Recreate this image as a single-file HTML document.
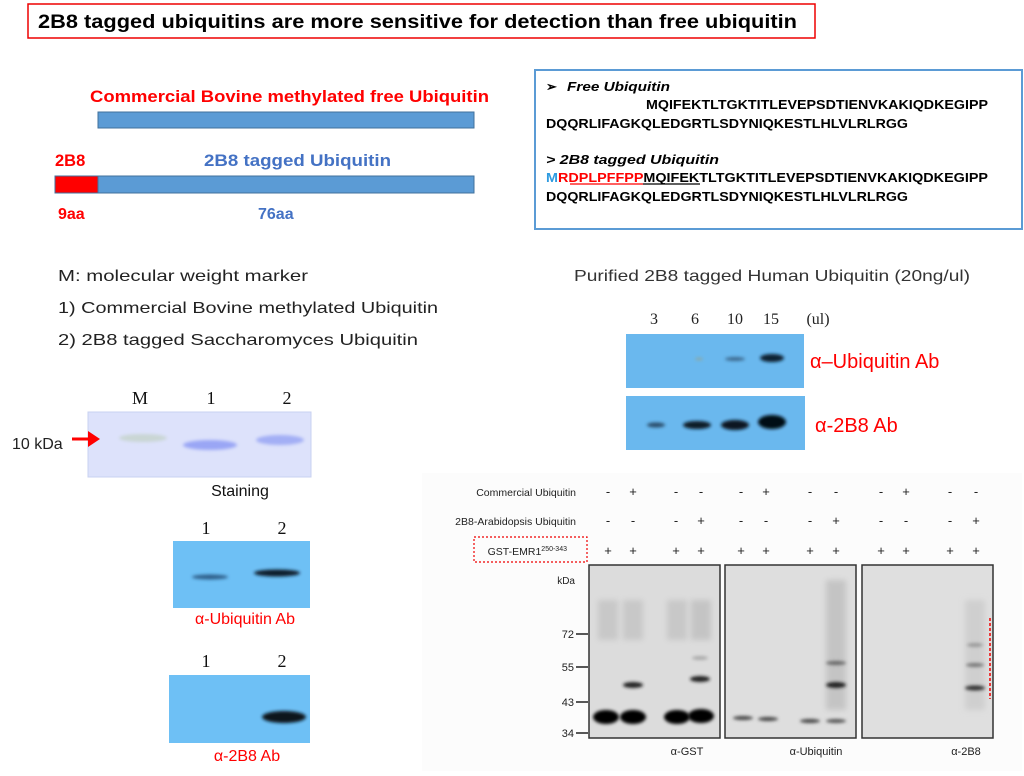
<!DOCTYPE html>
<html><head><meta charset="utf-8"><style>
html,body{margin:0;padding:0;background:#fff;width:1024px;height:776px;overflow:hidden}
svg{display:block}
.s{font-family:"Liberation Sans",sans-serif}
.r{font-family:"Liberation Serif",serif}
</style></head><body>
<svg width="1024" height="776" viewBox="0 0 1024 776" xmlns="http://www.w3.org/2000/svg" class="s">
<defs>
<filter id="b1" x="-50%" y="-100%" width="200%" height="300%"><feGaussianBlur stdDeviation="1.5"/></filter>
<filter id="b2" x="-50%" y="-100%" width="200%" height="300%"><feGaussianBlur stdDeviation="3"/></filter>
</defs>
<!-- Title -->
<rect x="28" y="4" width="787" height="34" fill="#fff" stroke="#e00" stroke-width="1.5"/>
<text x="38" y="28" font-size="19" font-weight="bold" fill="#000" textLength="759" lengthAdjust="spacingAndGlyphs">2B8 tagged ubiquitins are more sensitive for detection than free ubiquitin</text>

<!-- Bars -->
<text x="90" y="102" font-size="16.5" font-weight="bold" fill="#f00" textLength="399" lengthAdjust="spacingAndGlyphs">Commercial Bovine methylated free Ubiquitin</text>
<rect x="98" y="112" width="376" height="16" fill="#5b9bd5" stroke="#41719c" stroke-width="1"/>
<text x="55" y="166" font-size="16.5" font-weight="bold" fill="#f00">2B8</text>
<text x="204" y="166" font-size="16.5" font-weight="bold" fill="#4472c4" textLength="187" lengthAdjust="spacingAndGlyphs">2B8 tagged Ubiquitin</text>
<rect x="55" y="176" width="43" height="17" fill="#f00" stroke="#41719c"/>
<rect x="98" y="176" width="376" height="17" fill="#5b9bd5" stroke="#41719c"/>
<text x="58" y="219" font-size="16" font-weight="bold" fill="#f00">9aa</text>
<text x="258" y="219" font-size="16" font-weight="bold" fill="#4472c4">76aa</text>

<!-- Sequence box -->
<rect x="535" y="70" width="487" height="159" fill="#fff" stroke="#5b9bd5" stroke-width="2"/>
<g font-size="13" font-weight="bold" fill="#000">
<text x="546" y="91">➢</text>
<text x="567" y="91" font-style="italic" textLength="103" lengthAdjust="spacingAndGlyphs">Free Ubiquitin</text>
<text x="646" y="109" textLength="342" lengthAdjust="spacingAndGlyphs">MQIFEKTLTGKTITLEVEPSDTIENVKAKIQDKEGIPP</text>
<text x="546" y="128" textLength="362" lengthAdjust="spacingAndGlyphs">DQQRLIFAGKQLEDGRTLSDYNIQKESTLHLVLRLRGG</text>
<text x="546" y="164" font-style="italic" textLength="173" lengthAdjust="spacingAndGlyphs">&gt; 2B8 tagged Ubiquitin</text>
<text x="546" y="182" textLength="442" lengthAdjust="spacingAndGlyphs"><tspan fill="#2e9be0">M</tspan><tspan fill="#f00">RDPLPFFPP</tspan>MQIFEKTLTGKTITLEVEPSDTIENVKAKIQDKEGIPP</text>
<text x="546" y="201" textLength="362" lengthAdjust="spacingAndGlyphs">DQQRLIFAGKQLEDGRTLSDYNIQKESTLHLVLRLRGG</text>
</g>
<line x1="570" y1="184" x2="643" y2="184" stroke="#f00" stroke-width="1.2"/>
<line x1="643" y1="184" x2="700" y2="184" stroke="#000" stroke-width="1.2"/>

<!-- Left legend -->
<g font-size="16" fill="#222">
<text x="58" y="281" textLength="250" lengthAdjust="spacingAndGlyphs">M: molecular weight marker</text>
<text x="58" y="313" textLength="380" lengthAdjust="spacingAndGlyphs">1) Commercial Bovine methylated Ubiquitin</text>
<text x="58" y="345" textLength="360" lengthAdjust="spacingAndGlyphs">2) 2B8 tagged  Saccharomyces  Ubiquitin</text>
</g>

<!-- Staining gel -->
<g font-size="18" fill="#111" class="r">
<text x="140" y="404" text-anchor="middle">M</text>
<text x="211" y="404" text-anchor="middle">1</text>
<text x="287" y="404" text-anchor="middle">2</text>
</g>
<rect x="88" y="412" width="223" height="65" fill="#dde2fb" stroke="#c8d2f0"/>
<ellipse cx="143" cy="438" rx="24" ry="4" fill="#c9d6d4" filter="url(#b1)"/>
<ellipse cx="210" cy="445" rx="27" ry="5" fill="#9aa6f5" filter="url(#b1)"/>
<ellipse cx="280" cy="440" rx="24" ry="5" fill="#a3aff5" filter="url(#b1)"/>
<text x="12" y="449" font-size="16" fill="#222">10 kDa</text>
<line x1="72" y1="439" x2="92" y2="439" stroke="#f00" stroke-width="3"/>
<polygon points="100,439 88,431 88,447" fill="#f00"/>
<text x="240" y="496" font-size="16" fill="#111" text-anchor="middle">Staining</text>

<!-- Ubiquitin blot small -->
<g font-size="18" fill="#111" class="r">
<text x="206" y="534" text-anchor="middle">1</text>
<text x="282" y="534" text-anchor="middle">2</text>
</g>
<rect x="173" y="541" width="137" height="67" fill="#6ec0f5"/>
<ellipse cx="210" cy="577" rx="18" ry="2.5" fill="#2d5f8a" filter="url(#b1)"/>
<ellipse cx="277" cy="573" rx="23" ry="3.5" fill="#0b1c2c" filter="url(#b1)"/>
<text x="245" y="624" font-size="16" fill="#f00" text-anchor="middle">α-Ubiquitin Ab</text>

<!-- 2B8 blot small -->
<g font-size="18" fill="#111" class="r">
<text x="206" y="667" text-anchor="middle">1</text>
<text x="282" y="667" text-anchor="middle">2</text>
</g>
<rect x="169" y="675" width="141" height="68" fill="#6ec0f5"/>
<ellipse cx="284" cy="717" rx="22" ry="6" fill="#08131c" filter="url(#b1)"/>
<text x="247" y="761" font-size="16" fill="#f00" text-anchor="middle">α-2B8 Ab</text>

<!-- Purified -->
<text x="574" y="281" font-size="16" fill="#333" textLength="396" lengthAdjust="spacingAndGlyphs">Purified 2B8 tagged Human Ubiquitin (20ng/ul)</text>
<g font-size="16" fill="#222" class="r">
<text x="654" y="324" text-anchor="middle">3</text>
<text x="695" y="324" text-anchor="middle">6</text>
<text x="735" y="324" text-anchor="middle">10</text>
<text x="771" y="324" text-anchor="middle">15</text>
<text x="818" y="324" text-anchor="middle">(ul)</text>
</g>
<rect x="626" y="334" width="178" height="54" fill="#6ab8ee"/>
<ellipse cx="699" cy="359" rx="4" ry="1.5" fill="#8aa" filter="url(#b1)"/>
<ellipse cx="735" cy="359" rx="10" ry="2" fill="#3d6a90" filter="url(#b1)"/>
<ellipse cx="772" cy="358" rx="12" ry="4" fill="#0e2030" filter="url(#b1)"/>
<rect x="626" y="396" width="179" height="54" fill="#6ab8ee"/>
<ellipse cx="656" cy="425" rx="9" ry="2.5" fill="#2a4d6a" filter="url(#b1)"/>
<ellipse cx="697" cy="425" rx="14" ry="4" fill="#0b1a28" filter="url(#b1)"/>
<ellipse cx="735" cy="425" rx="14" ry="5" fill="#081520" filter="url(#b1)"/>
<ellipse cx="772" cy="422" rx="14" ry="7" fill="#050d14" filter="url(#b1)"/>
<text x="810" y="368" font-size="20" fill="#f00">α–Ubiquitin Ab</text>
<text x="815" y="432" font-size="20" fill="#f00">α-2B8 Ab</text>

<!-- Western right -->
<rect x="422" y="473" width="600" height="298" fill="#fcfcfc"/>
<g font-size="10.5" fill="#222">
<text x="576" y="496" text-anchor="end">Commercial Ubiquitin</text>
<text x="576" y="525" text-anchor="end">2B8-Arabidopsis Ubiquitin</text>
<text x="567" y="555" text-anchor="end">GST-EMR1<tspan font-size="7" dy="-4">250-343</tspan></text>
<text x="575" y="584" text-anchor="end" font-size="10">kDa</text>
</g>
<rect x="474" y="537" width="113" height="25" fill="none" stroke="#e00" stroke-width="1.2" stroke-dasharray="2,2"/>
<g font-size="13" fill="#222" text-anchor="middle">
<text x="608" y="496">-</text><text x="633" y="496">+</text><text x="676" y="496">-</text><text x="701" y="496">-</text>
<text x="741" y="496">-</text><text x="766" y="496">+</text><text x="810" y="496">-</text><text x="836" y="496">-</text>
<text x="881" y="496">-</text><text x="906" y="496">+</text><text x="950" y="496">-</text><text x="976" y="496">-</text>
<text x="608" y="525">-</text><text x="633" y="525">-</text><text x="676" y="525">-</text><text x="701" y="525">+</text>
<text x="741" y="525">-</text><text x="766" y="525">-</text><text x="810" y="525">-</text><text x="836" y="525">+</text>
<text x="881" y="525">-</text><text x="906" y="525">-</text><text x="950" y="525">-</text><text x="976" y="525">+</text>
<text x="608" y="555">+</text><text x="633" y="555">+</text><text x="676" y="555">+</text><text x="701" y="555">+</text>
<text x="741" y="555">+</text><text x="766" y="555">+</text><text x="810" y="555">+</text><text x="836" y="555">+</text>
<text x="881" y="555">+</text><text x="906" y="555">+</text><text x="950" y="555">+</text><text x="976" y="555">+</text>
</g>
<g font-size="11" fill="#222" text-anchor="end">
<text x="574" y="638">72</text><text x="574" y="671">55</text><text x="574" y="706">43</text><text x="574" y="737">34</text>
</g>
<g stroke="#222" stroke-width="1.5">
<line x1="576" y1="634" x2="588" y2="634"/><line x1="576" y1="667" x2="588" y2="667"/>
<line x1="576" y1="702" x2="588" y2="702"/><line x1="576" y1="733" x2="588" y2="733"/>
</g>
<rect x="589" y="565" width="131" height="173" fill="#dcdcdc" stroke="#333" stroke-width="1.5"/>
<rect x="725" y="565" width="131" height="173" fill="#dedede" stroke="#333" stroke-width="1.5"/>
<rect x="862" y="565" width="131" height="173" fill="#dfdfdf" stroke="#333" stroke-width="1.5"/>
<rect x="598" y="600" width="20" height="40" fill="#c8c8c8" filter="url(#b2)"/>
<rect x="623" y="600" width="20" height="40" fill="#c8c8c8" filter="url(#b2)"/>
<rect x="667" y="600" width="20" height="40" fill="#c8c8c8" filter="url(#b2)"/>
<rect x="691" y="600" width="20" height="40" fill="#c4c4c4" filter="url(#b2)"/>
<ellipse cx="633" cy="685" rx="10" ry="3" fill="#222" filter="url(#b1)"/>
<ellipse cx="700" cy="679" rx="10" ry="3" fill="#222" filter="url(#b1)"/>
<ellipse cx="700" cy="658" rx="8" ry="2" fill="#aaa" filter="url(#b1)"/>
<ellipse cx="606" cy="717" rx="13" ry="7" fill="#000" filter="url(#b1)"/>
<ellipse cx="633" cy="717" rx="13" ry="7" fill="#000" filter="url(#b1)"/>
<ellipse cx="677" cy="717" rx="13" ry="7" fill="#000" filter="url(#b1)"/>
<ellipse cx="701" cy="716" rx="13" ry="7" fill="#000" filter="url(#b1)"/>
<ellipse cx="743" cy="718" rx="10" ry="2" fill="#444" filter="url(#b1)"/>
<ellipse cx="768" cy="719" rx="10" ry="2" fill="#444" filter="url(#b1)"/>
<ellipse cx="810" cy="721" rx="10" ry="2" fill="#444" filter="url(#b1)"/>
<ellipse cx="836" cy="721" rx="10" ry="2" fill="#555" filter="url(#b1)"/>
<rect x="826" y="580" width="20" height="130" fill="#c4c4c4" filter="url(#b2)"/>
<ellipse cx="836" cy="685" rx="10" ry="3" fill="#222" filter="url(#b1)"/>
<ellipse cx="836" cy="663" rx="10" ry="2" fill="#666" filter="url(#b1)"/>
<rect x="965" y="600" width="20" height="110" fill="#cfcfcf" filter="url(#b2)"/>
<ellipse cx="975" cy="688" rx="10" ry="2.5" fill="#333" filter="url(#b1)"/>
<ellipse cx="975" cy="665" rx="9" ry="2" fill="#777" filter="url(#b1)"/>
<ellipse cx="975" cy="645" rx="8" ry="2" fill="#999" filter="url(#b1)"/>
<line x1="990" y1="618" x2="990" y2="699" stroke="#e00" stroke-width="1.5" stroke-dasharray="3,2"/>
<g font-size="11" fill="#222" text-anchor="middle">
<text x="687" y="755">α-GST</text><text x="816" y="755">α-Ubiquitin</text><text x="966" y="755">α-2B8</text>
</g>
</svg>
</body></html>
